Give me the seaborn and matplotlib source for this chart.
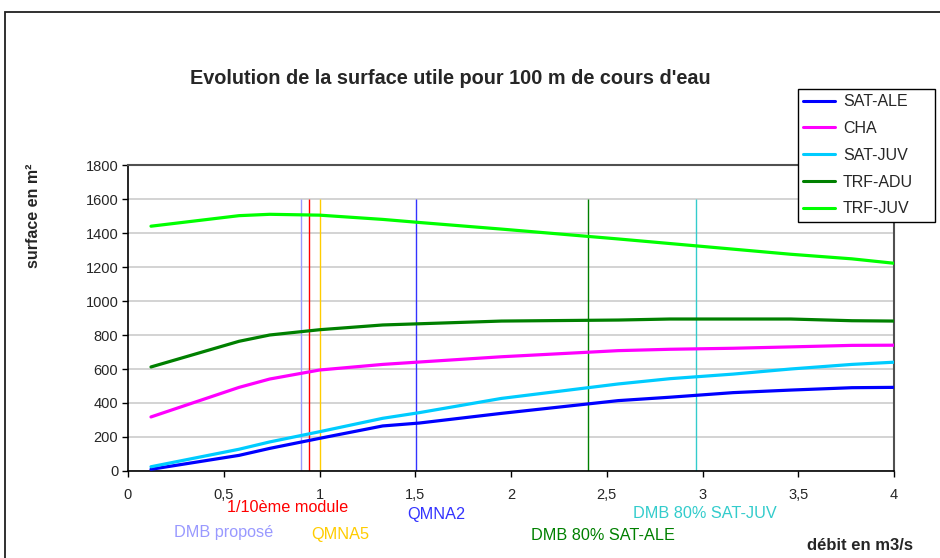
import matplotlib
matplotlib.use("Agg")
import matplotlib.pyplot as plt
import seaborn as sns
import pandas as pd
from matplotlib.patches import Rectangle

# ---- data ----
debit = [0.12, 0.58, 0.74, 1.0, 1.33, 1.52, 1.95, 2.56, 2.83, 3.16, 3.46, 3.78, 4.0]
sat_ale = [10, 92, 133, 192, 265, 282, 339, 414, 434, 461, 476, 490, 492]
cha = [318, 492, 541, 594, 627, 641, 672, 708, 716, 722, 730, 739, 740]
sat_juv = [25, 128, 171, 231, 310, 343, 427, 512, 543, 570, 600, 627, 640]
trf_adu = [612, 763, 800, 831, 859, 866, 882, 888, 894, 894, 894, 884, 882]
trf_juv = [1440, 1502, 1510, 1505, 1480, 1462, 1423, 1365, 1338, 1305, 1275, 1248, 1222]

series_names = ["SAT-ALE", "CHA", "SAT-JUV", "TRF-ADU", "TRF-JUV"]
series_values = [sat_ale, cha, sat_juv, trf_adu, trf_juv]
series_colors = ["#0000ff", "#ff00ff", "#00ccff", "#008000", "#00ff00"]

ref_x = [0.905, 0.945, 1.004, 1.504, 2.404, 2.968]
ref_top = 1600
ref_labels = ["DMB proposé", "1/10ème module", "QMNA5", "QMNA2",
              "DMB 80% SAT-ALE", "DMB 80% SAT-JUV"]
ref_colors = ["#9999ff", "#ff0000", "#ffcc00", "#3333ff", "#008000", "#33cccc"]
# label positions (figure pixels, centre)
ref_label_pos = [(224, 532), (288, 507), (340, 534), (436, 514), (603, 535), (705, 513)]

xticks = [0, 0.5, 1, 1.5, 2, 2.5, 3, 3.5, 4]
xtick_labels = ["0", "0,5", "1", "1,5", "2", "2,5", "3", "3,5", "4"]
yticks = list(range(0, 1801, 200))

title = "Evolution de la surface utile pour 100 m de cours d'eau"
ylabel = "surface en m²"
xlabel = "débit en m3/s"

# ---- figure ----
sns.set_style("white")
plt.rcParams["font.family"] = ["Liberation Sans", "DejaVu Sans"]

W, H = 940, 558
fig = plt.figure(figsize=(W / 100, H / 100), dpi=100)
ax = fig.add_axes([128 / W, 1 - 471 / H, (894 - 128) / W, (471 - 165) / H])

rows = []
for name, vals in zip(series_names, series_values):
    for x, y in zip(debit, vals):
        rows.append({"debit": x, "surface": y, "serie": name})
df = pd.DataFrame(rows)

ax.set_xlim(0, 4)
ax.set_ylim(0, 1800)
ax.set_yticks(yticks)
ax.set_xticks(xticks)
ax.set_xticklabels(xtick_labels)
ax.yaxis.grid(True, color="#c8c8c8", linewidth=1.1)
ax.xaxis.grid(False)
ax.set_axisbelow(True)

for x, c in zip(ref_x, ref_colors):
    ax.vlines(x, 0, ref_top, color=c, linewidth=1.0, zorder=2)

sns.lineplot(data=df, x="debit", y="surface", hue="serie",
             hue_order=series_names, palette=series_colors,
             linewidth=2.3, ax=ax, zorder=3, legend=True)

for sp in ["left", "bottom"]:
    ax.spines[sp].set_color("black")
    ax.spines[sp].set_linewidth(1.2)
for sp in ["top", "right"]:
    ax.spines[sp].set_color("#505050")
    ax.spines[sp].set_linewidth(1.5)

ax.tick_params(axis="both", which="major", direction="out", length=4,
               width=1, color="black", labelsize=10.5, pad=3, left=True, bottom=True)
ax.tick_params(axis="x", pad=8)
ax.set_xlabel("")
ax.set_ylabel("")

leg = ax.legend(loc="upper left",
                bbox_to_anchor=(798 / W, 1 - 221 / H, 137 / W, 132 / H),
                bbox_transform=fig.transFigure, mode="expand",
                frameon=True, fancybox=False,
                framealpha=1, edgecolor="black", fontsize=11.5, handlelength=2.0,
                handletextpad=0.5, labelspacing=0.74, borderpad=0.32,
                borderaxespad=0)
leg.get_frame().set_linewidth(1.0)
for line in leg.get_lines():
    line.set_linewidth(2.2)

fig.text(450 / W, 1 - 78 / H, title, ha="center", va="center",
         fontsize=14.3, fontweight="bold")
fig.text(33 / W, 1 - 216 / H, ylabel, ha="center", va="center",
         rotation=90, fontsize=11.5, fontweight="bold")
fig.text(913 / W, 1 - 545 / H, xlabel, ha="right", va="center",
         fontsize=12, fontweight="bold")

for lab, c, (px, py) in zip(ref_labels, ref_colors, ref_label_pos):
    fig.text(px / W, 1 - py / H, lab, ha="center", va="center",
             color=c, fontsize=11.7)

fig.patches.append(Rectangle((5 / W, -0.05), 1.2, 1 - 12 / H + 0.05,
                             transform=fig.transFigure, fill=False,
                             edgecolor="#202020", linewidth=1.3))

fig.savefig("out.png", dpi=100)
